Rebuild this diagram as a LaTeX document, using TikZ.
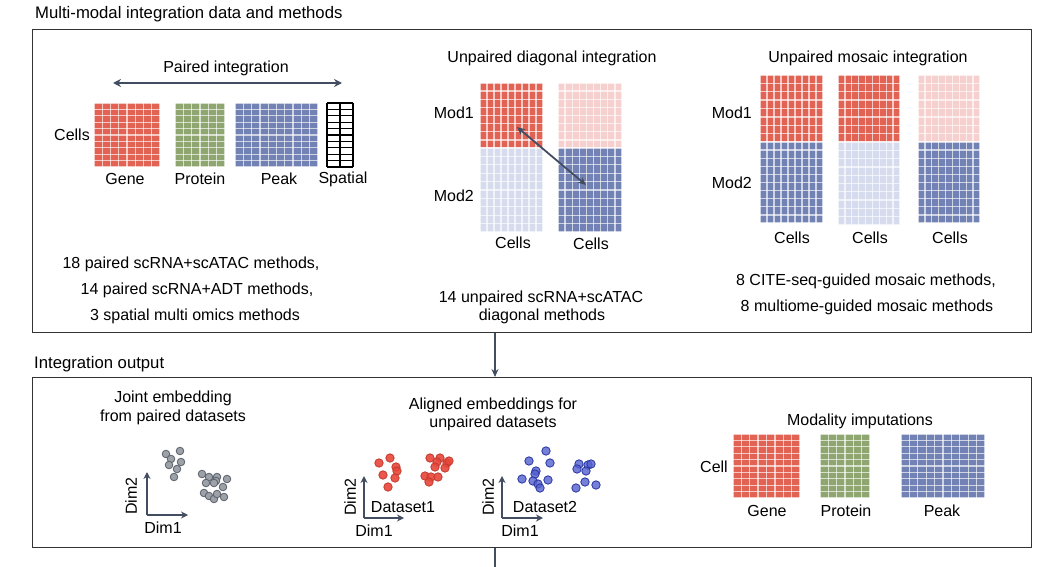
\documentclass[tikz,border=0pt]{standalone}
\usepackage{fontspec}
\setmainfont{Liberation Sans}
\usetikzlibrary{arrows.meta}
\definecolor{cred}{HTML}{E26254}
\definecolor{cgreen}{HTML}{8FA670}
\definecolor{cblue}{HTML}{7382B4}
\definecolor{cpink}{HTML}{F5D0CE}
\definecolor{clblue}{HTML}{D6DCEE}
\definecolor{slate}{HTML}{434D61}
\definecolor{boxc}{HTML}{333333}
\definecolor{ptred}{HTML}{E8463A}
\definecolor{ptredd}{HTML}{C43A2E}
\definecolor{ptblue}{HTML}{5360D0}
\definecolor{ptblued}{HTML}{2A36A0}
\definecolor{ptgray}{HTML}{9DA1A8}
\definecolor{ptgrayd}{HTML}{5B616B}
\newcommand{\mgrid}[7]{%
  \fill[#7] (#1,#2) rectangle (#3,#4);
  \pgfmathsetmacro{\gdx}{(#3-#1)/#5}
  \pgfmathsetmacro{\gdy}{(#4-#2)/#6}
  \foreach \gi in {0,...,#5}{\draw[gridline] ({#1+\gi*\gdx},#2) -- ({#1+\gi*\gdx},#4);}
  \foreach \gj in {0,...,#6}{\draw[gridline] (#1,{#2+\gj*\gdy}) -- (#3,{#2+\gj*\gdy});}
}
\tikzset{
  gridline/.style={white, line width=1.3pt, opacity=0.65},
  lbl/.style={font=\fontsize{16}{18}\selectfont, inner sep=0pt, text=black},
  hdr/.style={font=\fontsize{16.7}{19}\selectfont, inner sep=0pt, anchor=west, text=black},
  framebox/.style={draw=boxc, line width=1.2pt, inner sep=0pt, anchor=north west},
  conn/.style={draw=slate, line width=1.6pt},
  axis/.style={draw=slate, line width=2pt, -{Stealth[length=7pt,width=7pt]}},
  gpt/.style={fill=ptgray, draw=ptgrayd, line width=0.8pt},
  rpt/.style={fill=ptred, draw=ptredd, line width=0.8pt, fill opacity=0.9},
  bpt/.style={fill=ptblue, draw=ptblued, line width=0.8pt, fill opacity=0.8},
}
\begin{document}
\begin{tikzpicture}[x=1pt,y=-1pt]
\useasboundingbox (0,0) rectangle (1053,567);
% headers and frames
\node[hdr] (h1) at (35,14) {Multi-modal integration data and methods};
\node[framebox, minimum width=999pt, minimum height=303pt] (topbox) at (32,29) {};
\node[hdr] (h2) at (34,364) {Integration output};
\node[framebox, minimum width=999pt, minimum height=170pt] (botbox) at (32,377) {};
\coordinate (ax) at (495,0);
\coordinate (bend) at (495,567);
\draw[conn, -{Stealth[length=8pt,width=7pt]}] (ax |- topbox.south) -- (ax |- botbox.north);
\draw[conn] (ax |- botbox.south) -- (bend);

% ---------- paired ----------
\node[lbl] (pt) at (226,68) {Paired integration};
\coordinate (pa1) at (113,83);
\coordinate (pa2) at (342,83);
\draw[conn, line width=2.2pt, {Stealth[length=8pt,width=8pt]}-{Stealth[length=8pt,width=8pt]}] (pa1) -- (pa2);
\mgrid{94}{103}{160}{167}{8}{10}{cred}
\mgrid{175}{103}{225}{167}{6}{10}{cgreen}
\mgrid{235}{103}{318}{167}{10}{10}{cblue}
\foreach \gi in {0,1,2}{\draw[black, line width=1.1pt] ({327+\gi*13},103) -- ({327+\gi*13},167);}
\foreach \gj in {0,...,10}{\draw[black, line width=1.1pt] (327,{103+\gj*6.4}) -- (353,{103+\gj*6.4});}
\node[lbl, anchor=east] (pcells) at (90,135) {Cells};
\node[lbl] (pgene) at (125,179) {Gene};
\node[lbl] (pprot) at (200,179) {Protein};
\node[lbl] (ppeak) at (279,179) {Peak};
\node[lbl] (pspat) at (343,179) {Spatial};
\node[lbl] (pm1) at (191,264) {18 paired scRNA+scATAC methods,};
\node[lbl] (pm2) at (197,290) {14 paired scRNA+ADT methods,};
\node[lbl] (pm3) at (195,316) {3 spatial multi omics methods};

% ---------- diagonal ----------
\node[lbl] (dt) at (552,58) {Unpaired diagonal integration};
\mgrid{480}{83}{543}{148}{9}{8}{cred}
\mgrid{480}{148}{543}{232}{9}{10}{clblue}
\mgrid{558}{83}{622}{148}{9}{8}{cpink}
\mgrid{558}{148}{622}{232}{9}{10}{cblue}
\coordinate (da1) at (517,127);
\coordinate (da2) at (586,185);
\draw[conn, line width=1.8pt, {Stealth[length=8pt,width=7pt]}-{Stealth[length=8pt,width=7pt]}] (da1) -- (da2);
\node[lbl, anchor=east] (dmod1) at (474,113) {Mod1};
\node[lbl, anchor=east] (dmod2) at (474,196) {Mod2};
\node[lbl] (dc1) at (513,243) {Cells};
\node[lbl] (dc2) at (591,244) {Cells};
\node[lbl] (dm1) at (541,298) {14 unpaired scRNA+scATAC};
\node[lbl] (dm2) at (542,316) {diagonal methods};

% ---------- mosaic ----------
\node[lbl] (mt) at (868,58) {Unpaired mosaic integration};
\mgrid{760}{75}{823}{142}{9}{8}{cred}
\mgrid{760}{142}{823}{223}{9}{10}{cblue}
\mgrid{838}{75}{900}{142}{9}{8}{cred}
\mgrid{838}{142}{900}{225}{9}{10}{clblue}
\mgrid{918}{75}{980}{142}{9}{8}{cpink}
\mgrid{918}{142}{980}{223}{9}{10}{cblue}
\node[lbl, anchor=east] (mmod1) at (752,113) {Mod1};
\node[lbl, anchor=east] (mmod2) at (752,183) {Mod2};
\node[lbl] (mc1) at (792,238) {Cells};
\node[lbl] (mc2) at (870,238) {Cells};
\node[lbl] (mc3) at (950,238) {Cells};
\node[lbl] (mm1) at (866,281) {8 CITE-seq-guided mosaic methods,};
\node[lbl] (mm2) at (867,307) {8 multiome-guided mosaic methods};

% ---------- joint embedding ----------
\node[lbl] (jt1) at (173,398) {Joint embedding};
\node[lbl] (jt2) at (173,417) {from paired datasets};
\coordinate (jo) at (147,515);
\coordinate (jy) at (147,472);
\coordinate (jx) at (188,515);
\draw[axis] (jo) -- (jy);
\draw[axis] (jo) -- (jx);
\node[lbl, rotate=90] (jd2) at (131,496) {Dim2};
\node[lbl] (jd1) at (163,528) {Dim1};
\foreach \px/\py in {166/454,180/451,171/459,181/462,169/465,177/469,174/477,
  202/474,209/477,206/483,217/477,216/481,227/479,223/487,214/483,204/493,209/496,214/499,217/494,224/497}
  {\filldraw[gpt] (\px,\py) circle (3.8);}

% ---------- aligned embeddings ----------
\node[lbl] (at1) at (493,405) {Aligned embeddings for};
\node[lbl] (at2) at (493,423) {unpaired datasets};
\coordinate (ao1) at (364,518);
\coordinate (ay1) at (364,476);
\coordinate (ax1) at (404,518);
\draw[axis] (ao1) -- (ay1);
\draw[axis] (ao1) -- (ax1);
\node[lbl, rotate=90] (ad21) at (350,497) {Dim2};
\node[lbl] (ads1) at (403,507) {Dataset1};
\node[lbl] (ad11) at (374,531) {Dim1};
\coordinate (ao2) at (502,518);
\coordinate (ay2) at (502,476);
\coordinate (ax2) at (543,518);
\draw[axis] (ao2) -- (ay2);
\draw[axis] (ao2) -- (ax2);
\node[lbl, rotate=90] (ad22) at (488,497) {Dim2};
\node[lbl] (ads2) at (545,507) {Dataset2};
\node[lbl] (ad12) at (520,531) {Dim1};
\foreach \px/\py in {379/463,390/458,396/467,397/471,383/475,395/478,388/487,
  430/458,440/458,437/462,447/463,449/461,435/467,445/468,425/476,431/477,438/477,429/482}
  {\filldraw[rpt] (\px,\py) circle (4.2);}
\foreach \px/\py in {546/451,529/461,550/463,536/471,535/474,522/479,533/481,538/484,548/480,540/488,
  579/464,588/465,577/469,591/464,586/471,585/482,576/488,596/485}
  {\filldraw[bpt] (\px,\py) circle (4.2);}

% ---------- imputations ----------
\node[lbl] (it) at (860,421) {Modality imputations};
\mgrid{733}{434}{800}{498}{8}{10}{cred}
\mgrid{820}{434}{870}{498}{6}{10}{cgreen}
\mgrid{901}{434}{985}{498}{10}{10}{cblue}
\node[lbl, anchor=east] (icell) at (728,467) {Cell};
\node[lbl] (igene) at (767,511) {Gene};
\node[lbl] (iprot) at (846,511) {Protein};
\node[lbl] (ipeak) at (942,511) {Peak};
\end{tikzpicture}
\end{document}
